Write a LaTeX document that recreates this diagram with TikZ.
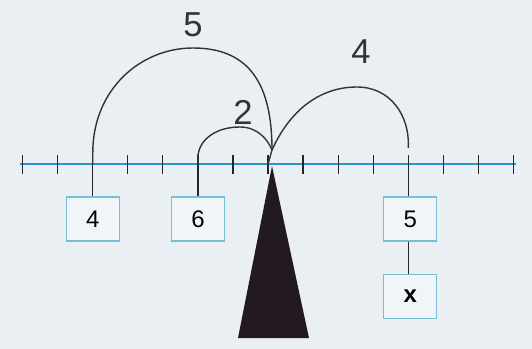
\documentclass[tikz,border=0pt]{standalone}
\usepackage{fontspec}
\setmainfont{Liberation Sans}
\usepackage{xcolor}
\usetikzlibrary{positioning, calc}
\definecolor{paperbg}{RGB}{234,239,243}
\definecolor{lineblue}{RGB}{40,150,205}
\definecolor{boxblue}{RGB}{120,190,215}
\definecolor{fulcrum}{RGB}{35,25,35}

\begin{document}
\begin{tikzpicture}[
    x=0.5pt, y=-0.5pt,
    numbox/.style={rectangle, draw=boxblue, fill=white!40!paperbg, line width=0.6pt, minimum width=26.5pt, minimum height=22pt, inner sep=0pt, font=\large},
    tickmark/.style={black!85, line width=0.6pt},
    hop/.style={black!80, line width=0.7pt},
    hoplabel/.style={font=\LARGE, text=black!80}
]
    % Paper
    \fill[paperbg] (0,0) rectangle (532,349);
    \useasboundingbox (0,0) rectangle (532,349);

    % Number line with ticks
    \draw[lineblue, line width=1.3pt] (20,164) -- (516,164);
    \foreach \i in {0,...,14} {
        \coordinate (t\i) at ({22.7+35.05*\i},164);
        \draw[tickmark] ($(t\i)+(0,-9)$) -- ($(t\i)+(0,10)$);
    }

    % Weights hanging below the line
    \node[numbox] (four) at ($(t2)+(0,55)$) {4};
    \node[numbox] (six) at ($(t5)+(0,55)$) {6};
    \node[numbox] (five) at ($(t11)+(2,55)$) {5};
    \node[numbox, below=16pt of five] (unknown) {\textbf{x}};

    \draw[tickmark] (t2) -- (four.north);
    \draw[tickmark] (t5) -- (six.north);
    \draw[tickmark] (t11) -- (t11 |- five.north);
    \draw[tickmark] (t11 |- five.south) -- (t11 |- unknown.north);

    % Fulcrum
    \coordinate (apex) at (272,166);
    \fill[fulcrum] (apex) -- (309,338) -- (238,338) -- cycle;

    % Hops
    \coordinate (pivot) at (272,150);
    \draw[hop] (t2) -- ++(0,-12) .. controls (93,90) and (140,48) .. (193,48)
        .. controls (250,48) and (272,85) .. (pivot);
    \draw[hop] (t5) -- ++(0,-9) .. controls (200,140) and (215,127) .. (240,127)
        .. controls (258,127) and (268,140) .. (pivot);
    \draw[hop] (pivot) -- (t7);
    \draw[hop] (pivot) .. controls (290,110) and (320,87) .. (357,87)
        .. controls (390,87) and (410,115) .. ($(t11)+(0,-16)$);

    \node[hoplabel] (lfive) at (193,25) {5};
    \node[hoplabel] (ltwo) at (243,112) {2};
    \node[hoplabel] (lfour) at (361,52) {4};
\end{tikzpicture}
\end{document}
